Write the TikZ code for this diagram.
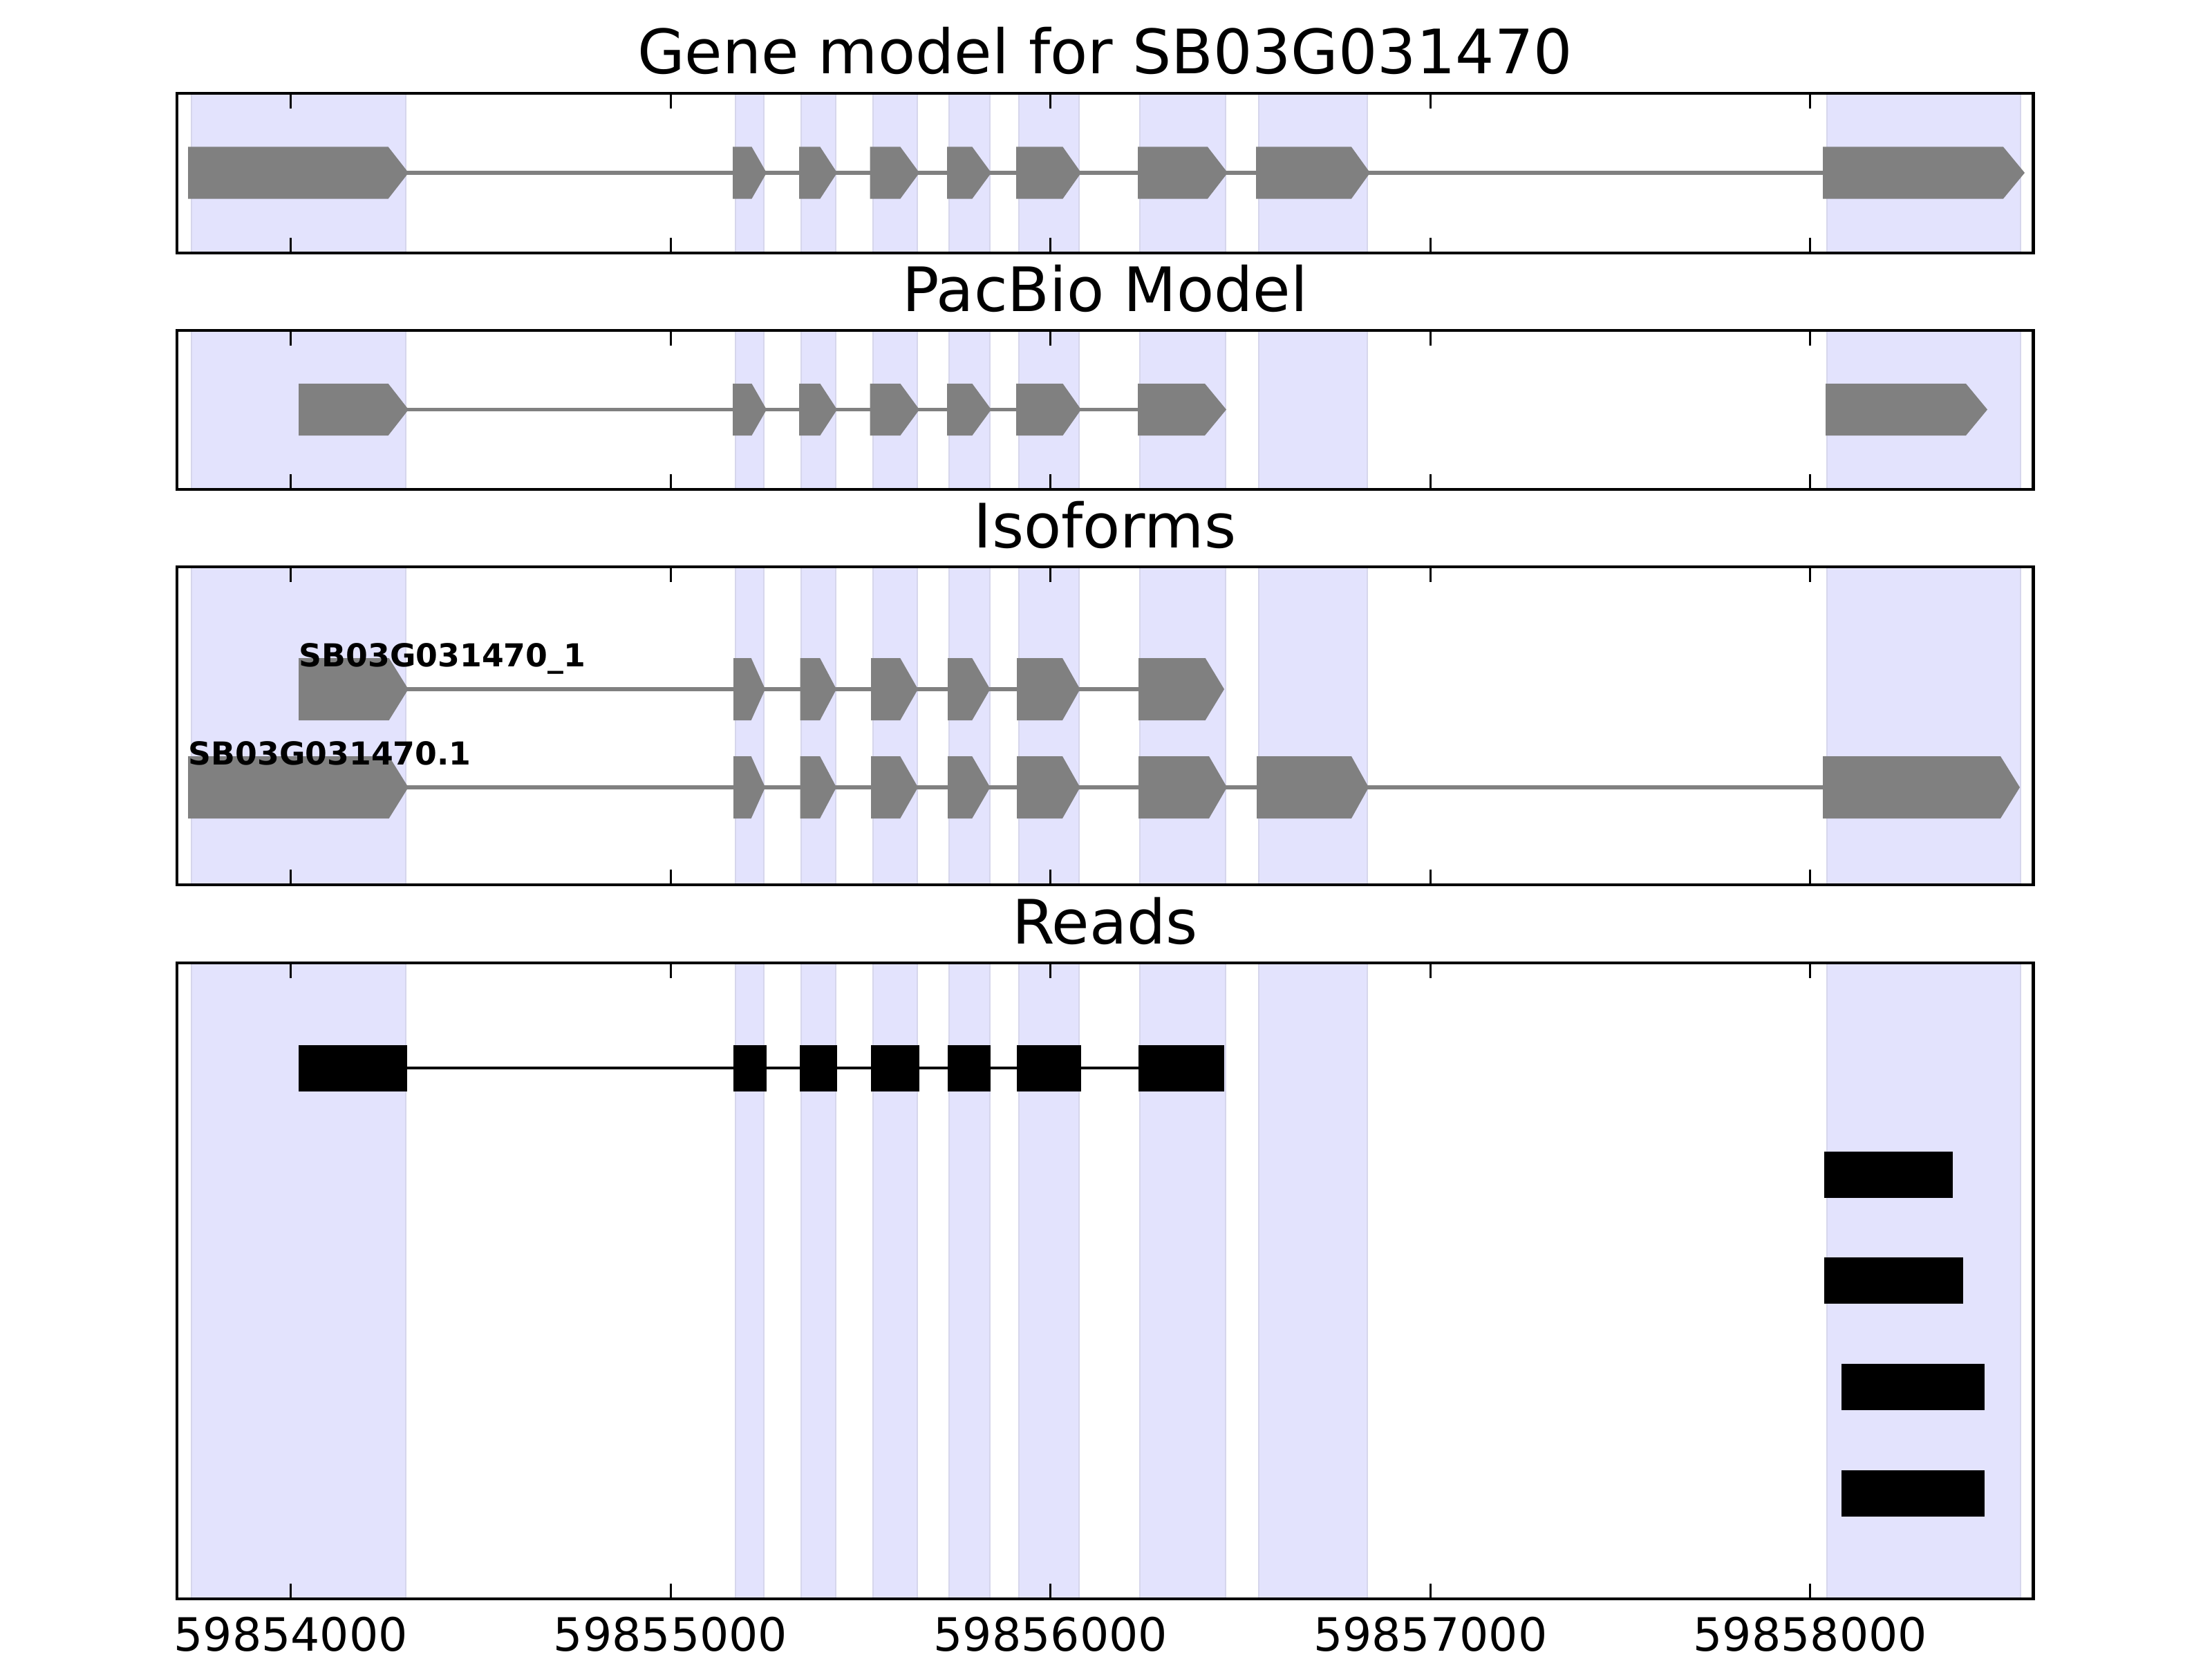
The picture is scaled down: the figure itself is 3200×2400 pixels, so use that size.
\documentclass[tikz,border=0pt]{standalone}
\usepackage{fontspec}
\setmainfont{DejaVu Sans}
\definecolor{bandfill}{RGB}{227,227,253}
\definecolor{bandedge}{RGB}{214,214,236}
\definecolor{exongray}{RGB}{128,128,128}
\tikzset{
  band/.style={fill=bandfill, draw=bandedge, line width=0.8pt},
  axframe/.style={draw=black, line width=1.4pt},
  tickmark/.style={draw=black, line width=0.8pt},
  intron/.style={draw=exongray, line width=1.5pt},
  exonshape/.style={fill=exongray},
  readbar/.style={fill=black},
  readline/.style={draw=black, line width=1.4pt},
  paneltitle/.style={font=\fontsize{25.2}{30}\selectfont, anchor=base, inner sep=0pt},
  ticklabel/.style={font=\fontsize{18.9}{22}\selectfont, anchor=base, inner sep=0pt},
  isolabel/.style={font=\bfseries\fontsize{13}{15}\selectfont, anchor=base west, inner sep=0pt},
}
% left, arrow start, tip, centre y, half height
\newcommand\gexon[5]{\fill[exonshape] (#1,{#4-#5}) -- (#2,{#4-#5}) -- (#3,#4) -- (#2,{#4+#5}) -- (#1,{#4+#5}) -- cycle;}
\newcommand\rbar[4]{\fill[readbar] (#1,{#3-#4}) rectangle (#2,{#3+#4});}
\begin{document}
\begin{tikzpicture}[x=0.01cm, y=-0.01cm]
\useasboundingbox (0,0) rectangle (3200,2400);
\fill[white] (0,0) rectangle (3200,2400);
% bands
\foreach \t/\bt in {135/366, 478/708, 820/1280, 1393/2313}{
  \foreach \a/\b in {277/587, 1064/1105, 1159/1209, 1263/1327, 1373/1432, 1474/1561, 1649/1773, 1821/1978, 2643/2923}{
    \filldraw[band] (\a,\t) rectangle (\b,\bt);
  }
}
% Panel 1: gene model
\draw[intron] (580,250) -- (2640,250);
\foreach \l/\m/\r in {272/561.7/591, 1060/1087.5/1109, 1156/1186.5/1211, 1258.5/1302.5/1330, 1370/1406.5/1434, 1470/1537.5/1564, 1646/1747/1776, 1817/1955/1982, 2637/2898/2929}{
  \gexon{\l}{\m}{\r}{250}{37.5}
}
% Panel 2: PacBio model
\draw[intron] (580,592.5) -- (1650,592.5);
\foreach \l/\m/\r in {432/561.7/591, 1060/1087.5/1109, 1156/1186.5/1211, 1258.5/1302.5/1330, 1370/1406.5/1434, 1470/1537.5/1564, 1646/1743/1774, 2641/2844/2875}{
  \gexon{\l}{\m}{\r}{592.5}{37.5}
}
% Panel 3: isoforms
\draw[intron] (580,997) -- (1650,997);
\foreach \l/\m/\r in {432/562.7/590.7, 1061/1086.7/1107, 1157.5/1186.2/1210, 1260/1302.3/1328, 1371/1406.3/1432.4, 1471/1537/1562.5, 1647/1743.7/1771}{
  \gexon{\l}{\m}{\r}{997}{45}
}
\draw[intron] (580,1139) -- (2640,1139);
\foreach \l/\m/\r in {272/562.7/590.7, 1061/1086.7/1107, 1157.5/1186.2/1210, 1260/1302.3/1328, 1371/1406.3/1432.4, 1471/1537/1562.5, 1647/1749/1775, 1818/1955/1980, 2637/2894/2922}{
  \gexon{\l}{\m}{\r}{1139}{45}
}
\node[isolabel] (iso1) at (432,964) {SB03G031470\_1};
\node[isolabel] (iso2) at (272,1106) {SB03G031470.1};
% Panel 4: reads
\draw[readline] (589,1545) -- (1647,1545);
\foreach \l/\r in {432/589, 1061/1109, 1157/1211, 1260/1330, 1371/1433, 1471/1564, 1647/1771}{
  \rbar{\l}{\r}{1545}{33.5}
}
\rbar{2639}{2825}{1699}{33.5}
\rbar{2639}{2840}{1852.5}{33.5}
\rbar{2664}{2871}{2006}{33.5}
\rbar{2664}{2871}{2160}{33.5}
% frames and ticks
\foreach \t/\bt in {135/366, 478/708, 820/1280, 1393/2313}{
  \foreach \x in {420.6, 970.1, 1519.8, 2069.3, 2618.8}{
    \draw[tickmark] (\x,\t) -- (\x,{\t+22});
    \draw[tickmark] (\x,\bt) -- (\x,{\bt-22});
  }
  \draw[axframe] (256,\t) rectangle (2941,\bt);
}
% titles
\node[paneltitle] (title1) at (1598.5,107) {Gene model for SB03G031470};
\node[paneltitle] (title2) at (1598.5,450) {PacBio Model};
\node[paneltitle] (title3) at (1598.5,792) {Isoforms};
\node[paneltitle] (title4) at (1598.5,1365) {Reads};
% tick labels
\node[ticklabel] (xl0) at (420.6,2388) {59854000};
\node[ticklabel] (xl1) at (970.1,2388) {59855000};
\node[ticklabel] (xl2) at (1519.8,2388) {59856000};
\node[ticklabel] (xl3) at (2069.3,2388) {59857000};
\node[ticklabel] (xl4) at (2618.8,2388) {59858000};
\end{tikzpicture}
\end{document}
